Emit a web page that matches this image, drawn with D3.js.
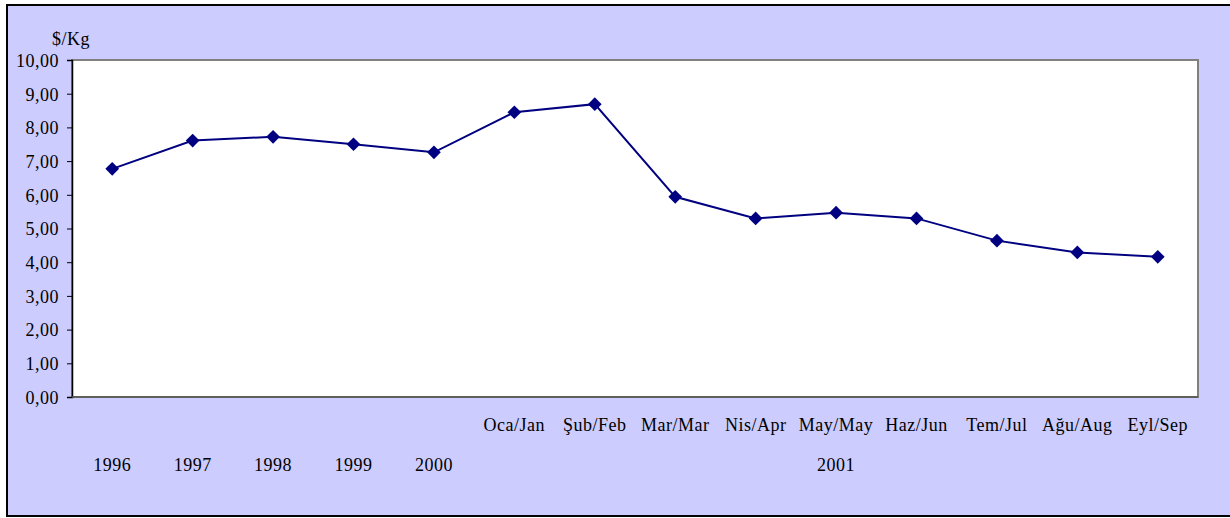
<!DOCTYPE html>
<html>
<head>
<meta charset="utf-8">
<script src="https://cdnjs.cloudflare.com/ajax/libs/d3/7.8.5/d3.min.js"></script>
<style>
  body { margin: 0; background: #fff; }
  text { font-family: "Liberation Serif", "Times New Roman", serif; font-size: 18px; letter-spacing: 0.5px; fill: #000; }
</style>
</head>
<body>
<svg id="chart" width="1230" height="518"></svg>
<script>
// data
var keys = ["1996", "1997", "1998", "1999", "2000", "m1", "m2", "m3", "m4", "m5", "m6", "m7", "m8", "m9"];
var monthLabels = ["", "", "", "", "", "Oca/Jan", "Şub/Feb", "Mar/Mar", "Nis/Apr", "May/May", "Haz/Jun", "Tem/Jul", "Ağu/Aug", "Eyl/Sep"];
var yearLabels = ["1996", "1997", "1998", "1999", "2000", "", "", "", "", "", "", "", "", ""];
var prices = [6.77, 7.61, 7.72, 7.50, 7.26, 8.45, 8.69, 5.94, 5.30, 5.47, 5.30, 4.64, 4.29, 4.16];
var yTicks = [0, 1, 2, 3, 4, 5, 6, 7, 8, 9, 10];

var svg = d3.select("#chart");

var margin = {top: 60, left: 72},
    plotW = 1198 - 72,
    plotH = 397 - 60;

// outer frame
svg.append("rect")
    .attr("x", 7).attr("y", 5)
    .attr("width", 1240).attr("height", 511)
    .attr("fill", "#ccccff")
    .attr("stroke", "#000").attr("stroke-width", 2);

var g = svg.append("g")
    .attr("transform", "translate(" + margin.left + "," + margin.top + ")");

var x = d3.scaleBand().domain(keys).range([0, plotW]);
var y = d3.scaleLinear().domain([0, 10]).range([plotH, 0]);

// plot area
g.append("rect")
    .attr("width", plotW).attr("height", plotH)
    .attr("fill", "#fff")
    .attr("stroke", "#808080").attr("stroke-width", 2);

// y axis
var yAxis = d3.axisLeft(y)
    .tickValues(yTicks)
    .tickSize(5)
    .tickPadding(8)
    .tickFormat(function (d) { return d3.format(".2f")(d).replace(".", ","); });

var ya = g.append("g").call(yAxis);
ya.attr("font-family", null).attr("font-size", null);
ya.select(".domain").attr("stroke", "#000").attr("stroke-width", 1.5);
ya.selectAll(".tick line").attr("stroke", "#000");
ya.selectAll("text").attr("fill", "#000").attr("dy", "0.35em");

// bottom axis line
g.append("line")
    .attr("x1", 0).attr("x2", plotW)
    .attr("y1", plotH).attr("y2", plotH)
    .attr("stroke", "#555").attr("stroke-width", 1.5);

// unit label
svg.append("text")
    .attr("x", 52).attr("y", 45)
    .text("$/Kg");

// category labels
g.selectAll(".mlab").data(keys).enter().append("text")
    .attr("class", "mlab")
    .attr("x", function (d) { return x(d) + x.bandwidth() / 2; })
    .attr("y", plotH + 34)
    .attr("text-anchor", "middle")
    .text(function (d, i) { return monthLabels[i]; });

g.selectAll(".ylab").data(keys).enter().append("text")
    .attr("class", "ylab")
    .attr("x", function (d) { return x(d) + x.bandwidth() / 2; })
    .attr("y", plotH + 74)
    .attr("text-anchor", "middle")
    .text(function (d, i) { return yearLabels[i]; });

// 2001 label centred under the months
var firstM = x(keys[5]) + x.bandwidth() / 2,
    lastM = x(keys[13]) + x.bandwidth() / 2;
g.append("text")
    .attr("x", (firstM + lastM) / 2)
    .attr("y", plotH + 74)
    .attr("text-anchor", "middle")
    .text("2001");

// line
var line = d3.line()
    .x(function (d, i) { return x(keys[i]) + x.bandwidth() / 2; })
    .y(function (d) { return y(d); });

g.append("path")
    .datum(prices)
    .attr("d", line)
    .attr("fill", "none")
    .attr("stroke", "#000080")
    .attr("stroke-width", 2);

// diamond markers
var diamond = d3.symbol().type(d3.symbolDiamond2).size(120);
g.selectAll(".pt").data(prices).enter().append("path")
    .attr("class", "pt")
    .attr("d", diamond)
    .attr("transform", function (d, i) {
        return "translate(" + (x(keys[i]) + x.bandwidth() / 2) + "," + y(d) + ")";
    })
    .attr("fill", "#000080");
</script>
</body>
</html>
